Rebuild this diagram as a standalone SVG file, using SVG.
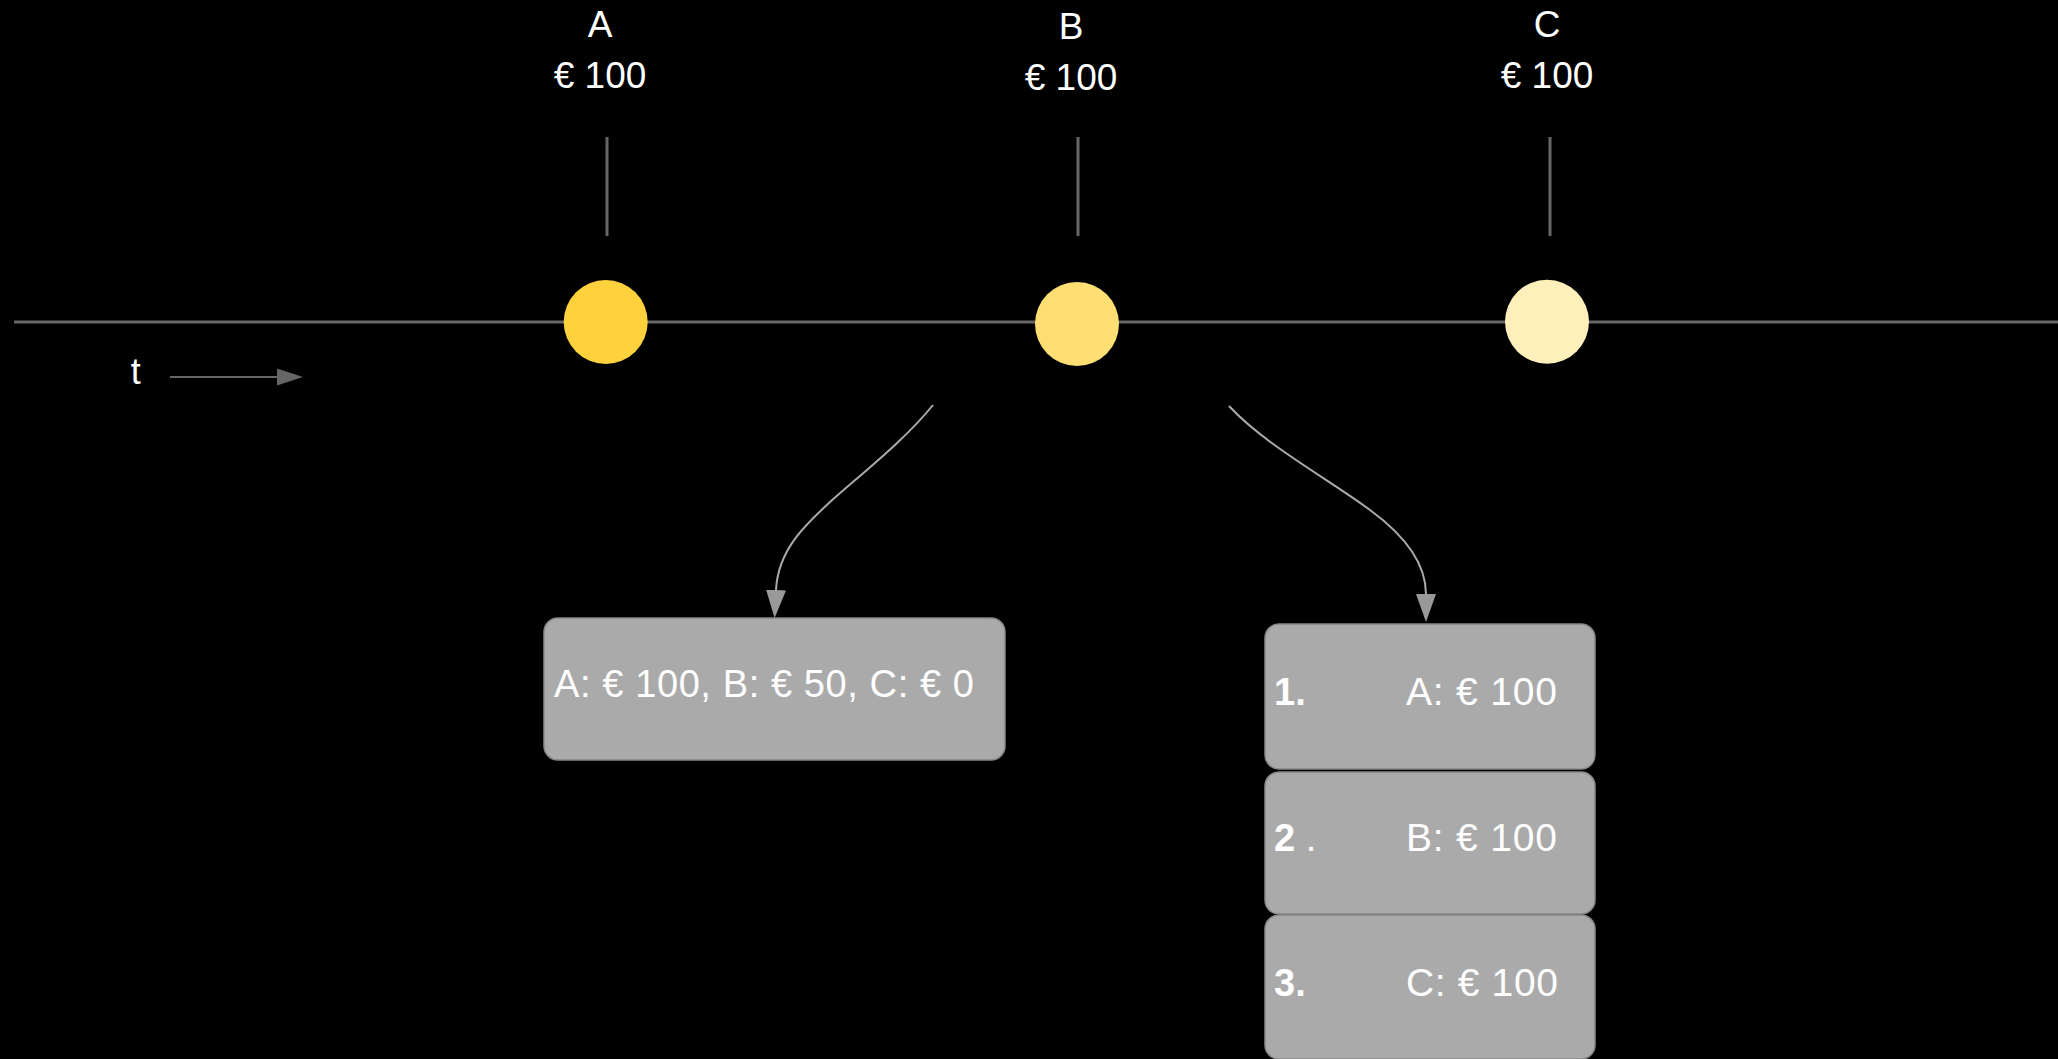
<svg xmlns="http://www.w3.org/2000/svg" width="2058" height="1059" viewBox="0 0 2058 1059">
  <style>
    .lbl { font-family: "Liberation Sans", Arial, sans-serif; fill: #ffffff; font-size: 37px; }
    .mid { text-anchor: middle; }
    .bold { font-weight: bold; }
    .tick { stroke: #666666; stroke-width: 3; fill: none; }
    .box { fill: #aaaaaa; stroke: #888888; stroke-width: 1.5; }
    .curve { fill: none; stroke: #aaaaaa; stroke-width: 2; }
    .big { font-size: 39px; }
  </style>
  <defs>
    <marker id="arrowLight" markerUnits="userSpaceOnUse" markerWidth="28" markerHeight="20" refX="0" refY="10" orient="auto" viewBox="0 0 28 20">
      <path d="M0,0 L28,10 L0,20 Z" fill="#999999"/>
    </marker>
    <marker id="arrowDark" markerUnits="userSpaceOnUse" markerWidth="26" markerHeight="17" refX="0" refY="8.5" orient="auto" viewBox="0 0 26 17">
      <path d="M0,0 L26,8.5 L0,17 Z" fill="#666666"/>
    </marker>
  </defs>
  <rect x="0" y="0" width="2058" height="1059" fill="#000000"/>

  <g id="connectors">
    <line id="timeline" class="tick" x1="14" y1="322" x2="2058" y2="322"/>
    <line id="tick-a" class="tick" x1="607" y1="137" x2="607" y2="236"/>
    <line id="tick-b" class="tick" x1="1078" y1="137" x2="1078" y2="236"/>
    <line id="tick-c" class="tick" x1="1550" y1="137" x2="1550" y2="236"/>
    <line id="t-arrow" x1="170" y1="377" x2="277" y2="377" stroke="#666666" stroke-width="2" marker-end="url(#arrowDark)"/>
    <path id="curve-left" class="curve" d="M933,405 C905,440 860,475 830,502 C805,525 778,550 776,590" marker-end="url(#arrowLight)"/>
    <path id="curve-right" class="curve" d="M1229,406 C1265,445 1330,480 1370,510 C1400,532 1426,560 1426,594" marker-end="url(#arrowLight)"/>
  </g>

  <g id="label-a">
    <text class="lbl mid" x="600" y="37">A</text>
    <text class="lbl mid" x="600" y="88">€ 100</text>
  </g>
  <g id="label-b">
    <text class="lbl mid" x="1071" y="38.5">B</text>
    <text class="lbl mid" x="1071" y="89.5">€ 100</text>
  </g>
  <g id="label-c">
    <text class="lbl mid" x="1547" y="37">C</text>
    <text class="lbl mid" x="1547" y="87.5">€ 100</text>
  </g>

  <g id="node-a"><circle cx="605.7" cy="322" r="42" fill="#ffd23d"/></g>
  <g id="node-b"><circle cx="1077" cy="324" r="42" fill="#ffde73"/></g>
  <g id="node-c"><circle cx="1547" cy="321.7" r="42" fill="#fff0bb"/></g>

  <g id="t-label">
    <text class="lbl mid" x="135.7" y="384" style="font-size:36px">t</text>
  </g>

  <g id="box-partial">
    <rect class="box" x="544" y="618" width="461" height="142" rx="14"/>
    <text class="lbl" x="554" y="697" style="font-size:38px" textLength="420" lengthAdjust="spacing">A: € 100, B: € 50, C: € 0</text>
  </g>

  <g id="stack-1">
    <rect class="box" x="1265" y="624" width="330" height="145" rx="14"/>
    <text class="lbl bold" x="1274" y="705" style="font-size:38px">1.</text>
    <text class="lbl big" x="1406" y="705" textLength="151" lengthAdjust="spacing">A: € 100</text>
  </g>
  <g id="stack-2">
    <rect class="box" x="1265" y="772" width="330" height="142" rx="14"/>
    <text class="lbl" x="1274" y="851" style="font-size:38px"><tspan font-weight="bold">2</tspan> .</text>
    <text class="lbl big" x="1406" y="851" textLength="151" lengthAdjust="spacing">B: € 100</text>
  </g>
  <g id="stack-3">
    <rect class="box" x="1265" y="915" width="330" height="144" rx="14"/>
    <text class="lbl bold" x="1274" y="996" style="font-size:38px">3.</text>
    <text class="lbl big" x="1406" y="996" textLength="152" lengthAdjust="spacing">C: € 100</text>
  </g>
</svg>
